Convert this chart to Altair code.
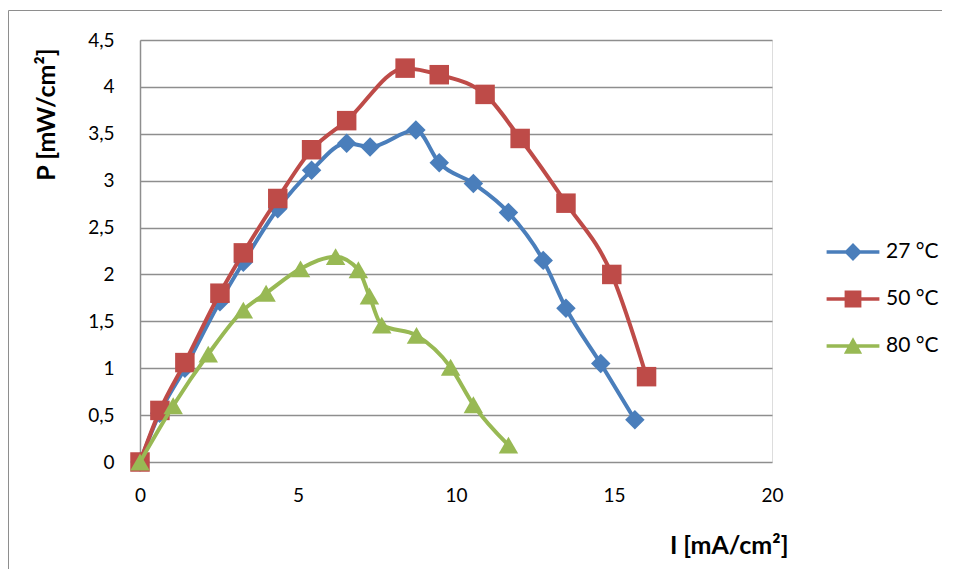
import altair as alt
import pandas as pd

series_names = ["27 °C", "50 °C", "80 °C"]
colors = ["#4a7ebb", "#be4b48", "#98b954"]
shapes = ["diamond", "square", "triangle-up"]

i_27 = [0, 0.62, 1.42, 2.53, 3.27, 4.36, 5.43, 6.54, 7.28, 8.73, 9.47, 10.55, 11.66, 12.76, 13.48, 14.58, 15.66]
p_27 = [0, 0.52, 1.00, 1.71, 2.13, 2.70, 3.11, 3.40, 3.36, 3.54, 3.19, 2.97, 2.66, 2.15, 1.64, 1.05, 0.45]
i_50 = [0, 0.63, 1.42, 2.53, 3.27, 4.36, 5.43, 6.54, 8.39, 9.47, 10.92, 12.03, 13.48, 14.93, 16.03]
p_50 = [0, 0.55, 1.06, 1.80, 2.23, 2.81, 3.33, 3.64, 4.20, 4.13, 3.92, 3.45, 2.76, 2.00, 0.91]
i_80 = [0, 1.05, 2.16, 3.27, 3.99, 5.08, 6.19, 6.91, 7.26, 7.65, 8.75, 9.83, 10.55, 11.66]
p_80 = [0, 0.60, 1.15, 1.62, 1.80, 2.06, 2.19, 2.05, 1.77, 1.46, 1.35, 1.01, 0.61, 0.18]

x_ticks = [0, 5, 10, 15, 20]
y_ticks = [0, 0.5, 1, 1.5, 2, 2.5, 3, 3.5, 4, 4.5]

rows = []
for name, xs, ys in zip(series_names, [i_27, i_50, i_80], [p_27, p_50, p_80]):
    for k, (a, b) in enumerate(zip(xs, ys)):
        rows.append({"I": a, "P": b, "series": name, "order": k})
df = pd.DataFrame(rows)

color_scale = alt.Scale(domain=series_names, range=colors)

# legend symbols: a short bar with the marker on top (filled paths)
bar = "M-1.1,-0.075H1.1V0.075H-1.1Z"
legend_paths = [
    bar + "M0,-0.37L0.37,0L0,0.37L-0.37,0Z",
    bar + "M-0.35,-0.35H0.35V0.35H-0.35Z",
    bar + "M0,-0.36L0.38,0.32H-0.38Z",
]
legend_shape_scale = alt.Scale(domain=series_names, range=legend_paths)

GRID = "#8e8e8e"

x_enc = alt.X(
    "I:Q",
    scale=alt.Scale(domain=[0, 20], nice=False),
    axis=alt.Axis(
        values=x_ticks, title="I [mA/cm²]", grid=False, domain=False, ticks=False,
        labelFlush=False,
        labelPadding=24, labelFontSize=19, labelColor="black", labelFont="Lato",
        titleFontSize=25, titleFontWeight="bold", titleColor="black", titleFont="Lato",
        titleX=648, titleY=83, titleAlign="right", titleBaseline="middle",
    ),
)
y_enc = alt.Y(
    "P:Q",
    scale=alt.Scale(domain=[0, 4.5], nice=False),
    axis=alt.Axis(
        values=y_ticks, title="P [mW/cm²]",
        labelExpr="replace(format(datum.value, '~g'), '.', ',')",
        labelFlush=False,
        grid=True, gridColor=GRID, gridWidth=1.5,
        domain=True, domainColor=GRID, domainWidth=1.5, ticks=False,
        labelPadding=26, labelFontSize=19, labelColor="black", labelFont="Lato",
        titleFontSize=25, titleFontWeight="bold", titleColor="black", titleFont="Lato",
        titleAngle=270, titleX=-94, titleY=74, titleAlign="center", titleBaseline="middle",
    ),
)

legend = alt.Legend(
    title=None, orient="none", legendX=689, legendY=188, padding=0, rowPadding=13,
    symbolOffset=0, labelOffset=9, symbolSize=2304, symbolOpacity=1,
    symbolStrokeWidth=0,
    labelFontSize=21, labelFont="Lato", labelColor="black",
)

border = alt.Chart(pd.DataFrame({"a": [0]})).mark_rect(
    fillOpacity=0, stroke=GRID, strokeWidth=1
).encode(
    x=alt.value(-131.5), x2=alt.value(830), y=alt.value(-29.5), y2=alt.value(560)
)

series_layers = []
for name, col, shp in zip(series_names, colors, shapes):
    base = alt.Chart(df).transform_filter(alt.datum.series == name)
    series_layers.append(
        base.mark_line(interpolate="monotone", strokeWidth=4, color=col).encode(
            x=x_enc, y=y_enc, order="order:Q"
        )
    )
    series_layers.append(
        base.mark_point(filled=True, size=380, opacity=1, shape=shp, color=col).encode(
            x=x_enc, y=y_enc
        )
    )

legend_layer = alt.Chart(df).transform_filter("false").mark_point(
    filled=True, size=2304, opacity=1
).encode(
    x=x_enc, y=y_enc,
    color=alt.Color("series:N", scale=color_scale, legend=legend),
    shape=alt.Shape("series:N", scale=legend_shape_scale, legend=legend),
)

chart = alt.layer(border, *series_layers, legend_layer).properties(
    width=632, height=422,
    autosize=alt.AutoSizeParams(type="none"),
    padding={"left": 132, "top": 32, "right": 170, "bottom": 107},
).configure_view(strokeWidth=0).configure(font="Lato")

chart.save("out.html", embed_options={"renderer": "svg", "actions": False})
